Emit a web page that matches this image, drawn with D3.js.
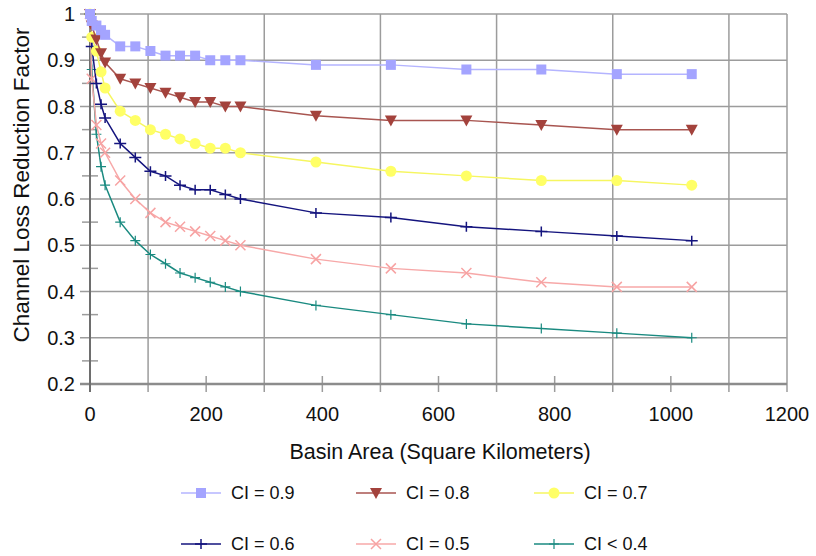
<!DOCTYPE html>
<html>
    <head>
        <style>
            body { margin: 0; background: #fff; }
            svg { display: block; font-family: "Liberation Sans", Arial, sans-serif; }
        </style>
    </head>
    <body>
        <div id="chart"></div>

        <script src="https://cdnjs.cloudflare.com/ajax/libs/d3/7.8.5/d3.min.js"></script>

    <script>
        // basin area, km2 (same for every curve)
        var area = [0, 3, 11, 19, 26, 52, 78, 104, 130, 155, 181, 207, 233, 259, 389, 518, 648, 777, 907, 1036];

        var ci09 = [1.0, 0.985, 0.975, 0.965, 0.955, 0.93, 0.93, 0.92, 0.91, 0.91, 0.91, 0.90, 0.90, 0.90, 0.89, 0.89, 0.88, 0.88, 0.87, 0.87];
        var ci08 = [1.0, 0.975, 0.945, 0.915, 0.895, 0.86, 0.85, 0.84, 0.83, 0.82, 0.81, 0.81, 0.80, 0.80, 0.78, 0.77, 0.77, 0.76, 0.75, 0.75];
        var ci07 = [1.0, 0.95, 0.92, 0.875, 0.84, 0.79, 0.77, 0.75, 0.74, 0.73, 0.72, 0.71, 0.71, 0.70, 0.68, 0.66, 0.65, 0.64, 0.64, 0.63];
        var ci06 = [1.0, 0.93, 0.85, 0.805, 0.775, 0.72, 0.69, 0.66, 0.65, 0.63, 0.62, 0.62, 0.61, 0.60, 0.57, 0.56, 0.54, 0.53, 0.52, 0.51];
        var ci05 = [1.0, 0.86, 0.76, 0.72, 0.70, 0.64, 0.60, 0.57, 0.55, 0.54, 0.53, 0.52, 0.51, 0.50, 0.47, 0.45, 0.44, 0.42, 0.41, 0.41];
        var ci04 = [1.0, 0.88, 0.74, 0.67, 0.63, 0.55, 0.51, 0.48, 0.46, 0.44, 0.43, 0.42, 0.41, 0.40, 0.37, 0.35, 0.33, 0.32, 0.31, 0.30];

        var seriesNames = ["CI = 0.9", "CI = 0.8", "CI = 0.7", "CI = 0.6", "CI = 0.5", "CI < 0.4"];
        var xTicks = [0, 200, 400, 600, 800, 1000, 1200];
        var yTicks = [0.2, 0.3, 0.4, 0.5, 0.6, 0.7, 0.8, 0.9, 1];

        var series = [
            { name: seriesNames[0], values: ci09, color: "#a4a4ff", line: "#b4b4ff", marker: "square" },
            { name: seriesNames[1], values: ci08, color: "#a3423c", line: "#a85550", marker: "triangle" },
            { name: seriesNames[2], values: ci07, color: "#ffff66", line: "#f6f660", marker: "circle" },
            { name: seriesNames[3], values: ci06, color: "#14147e", line: "#14147e", marker: "plus" },
            { name: seriesNames[4], values: ci05, color: "#f7a3a3", line: "#f7a8a8", marker: "cross" },
            { name: seriesNames[5], values: ci04, color: "#1a8a80", line: "#1a8a80", marker: "plus-small" }
        ];

        var width = 816, height = 556;

        var svg = d3.select("#chart")
            .append("svg")
            .attr("width", width)
            .attr("height", height);

        var x = d3.scaleLinear().domain([0, 1200]).range([90, 787]);
        var y = d3.scaleLinear().domain([0.2, 1]).range([384, 14]);

        var grid = svg.append("g");

        // horizontal gridlines
        grid.selectAll(".hgrid")
            .data(d3.range(0.3, 1.001, 0.1))
            .enter().append("line")
            .attr("x1", 80).attr("x2", x(1200))
            .attr("y1", function(d) { return y(d) }).attr("y2", function(d) { return y(d) })
            .attr("stroke", "#9c9c9c").attr("stroke-width", 1.5);

        // vertical gridlines on the odd hundreds + right border
        grid.selectAll(".vgrid")
            .data([100, 300, 500, 700, 900, 1100, 1200])
            .enter().append("line")
            .attr("x1", function(d) { return x(d) }).attr("x2", function(d) { return x(d) })
            .attr("y1", y(1)).attr("y2", y(0.2) + 8)
            .attr("stroke", "#9c9c9c").attr("stroke-width", 1.5);

        // small ticks on the even hundreds
        grid.selectAll(".xtick")
            .data([200, 400, 600, 800, 1000])
            .enter().append("line")
            .attr("x1", function(d) { return x(d) }).attr("x2", function(d) { return x(d) })
            .attr("y1", y(0.2) - 8).attr("y2", y(0.2) + 8)
            .attr("stroke", "#9c9c9c").attr("stroke-width", 1.5);

        // minor y ticks
        grid.selectAll(".ymin")
            .data(d3.range(0.25, 1, 0.1))
            .enter().append("line")
            .attr("x1", 82).attr("x2", 98)
            .attr("y1", function(d) { return y(d) }).attr("y2", function(d) { return y(d) })
            .attr("stroke", "#9c9c9c").attr("stroke-width", 1.5);

        // bottom axis line
        svg.append("line")
            .attr("x1", 80).attr("x2", x(1200))
            .attr("y1", y(0.2)).attr("y2", y(0.2))
            .attr("stroke", "#8c8c8c").attr("stroke-width", 2.5);

        // left axis line
        svg.append("line")
            .attr("x1", x(0)).attr("x2", x(0))
            .attr("y1", y(1) - 2).attr("y2", y(0.2) + 8)
            .attr("stroke", "#6e6e6e").attr("stroke-width", 2);

        // tick labels
        svg.selectAll(".ylab")
            .data(yTicks)
            .enter().append("text")
            .attr("x", 75)
            .attr("y", function(d) { return y(d) + 7 })
            .attr("text-anchor", "end")
            .attr("font-size", 20)
            .attr("fill", "#111")
            .text(function(d) { return d3.format("")(+d.toFixed(1)) });

        svg.selectAll(".xlab")
            .data(xTicks)
            .enter().append("text")
            .attr("x", function(d) { return x(d) })
            .attr("y", 421)
            .attr("text-anchor", "middle")
            .attr("font-size", 20)
            .attr("fill", "#111")
            .text(function(d) { return d });

        svg.append("text")
            .attr("x", 440).attr("y", 459)
            .attr("text-anchor", "middle")
            .attr("font-size", 21.5)
            .attr("fill", "#111")
            .text("Basin Area (Square Kilometers)");

        svg.append("text")
            .attr("transform", "translate(29,185) rotate(-90)")
            .attr("text-anchor", "middle")
            .attr("font-size", 22.5)
            .attr("fill", "#111")
            .text("Channel Loss Reduction Factor");

        function drawMarker(g, s) {
            if (s.marker == "square") {
                g.append("rect").attr("x", -5).attr("y", -5).attr("width", 10).attr("height", 10)
                    .attr("fill", s.color);
            } else if (s.marker == "triangle") {
                g.append("path").attr("d", "M-6,-5L6,-5L0,6Z").attr("fill", s.color);
            } else if (s.marker == "circle") {
                g.append("circle").attr("r", 5.5).attr("fill", s.color);
            } else if (s.marker == "plus") {
                g.append("path").attr("d", "M-6,0H6M0,-5V5").attr("stroke", s.color).attr("stroke-width", 1.5);
            } else if (s.marker == "cross") {
                g.append("path").attr("d", "M-5,-5L5,5M-5,5L5,-5").attr("stroke", s.color).attr("stroke-width", 1.5);
            } else {
                g.append("path").attr("d", "M-5,0H5M0,-5V5").attr("stroke", s.color).attr("stroke-width", 1.2);
            }
        }

        var line = d3.line()
            .x(function(d) { return x(d[0]) })
            .y(function(d) { return y(d[1]) });

        // draw bottom series first so the top ones sit over them
        series.slice().reverse().forEach(function(s) {
            var pts = area.map(function(a, i) { return [a, s.values[i]] });
            var g = svg.append("g");
            g.append("path")
                .datum(pts)
                .attr("d", line)
                .attr("fill", "none")
                .attr("stroke", s.line)
                .attr("stroke-width", 1.5);
            g.selectAll(".m")
                .data(pts)
                .enter().append("g")
                .attr("transform", function(d) { return "translate(" + x(d[0]) + "," + y(d[1]) + ")" })
                .each(function() { drawMarker(d3.select(this), s) });
        });

        // legend, two rows of three
        var legX = [181, 356, 534];
        var legY = [493, 544];
        series.forEach(function(s, i) {
            var lx = legX[i % 3], ly = legY[Math.floor(i / 3)];
            var g = svg.append("g").attr("transform", "translate(" + lx + "," + ly + ")");
            g.append("line").attr("x1", 0).attr("x2", 40).attr("y1", 0).attr("y2", 0)
                .attr("stroke", s.line).attr("stroke-width", 1.5);
            var m = g.append("g").attr("transform", "translate(20,0)");
            drawMarker(m, s);
            g.append("text")
                .attr("x", 50).attr("y", 6)
                .attr("font-size", 18)
                .attr("fill", "#111")
                .text(s.name);
        });
    </script>
    </body>
</html>
